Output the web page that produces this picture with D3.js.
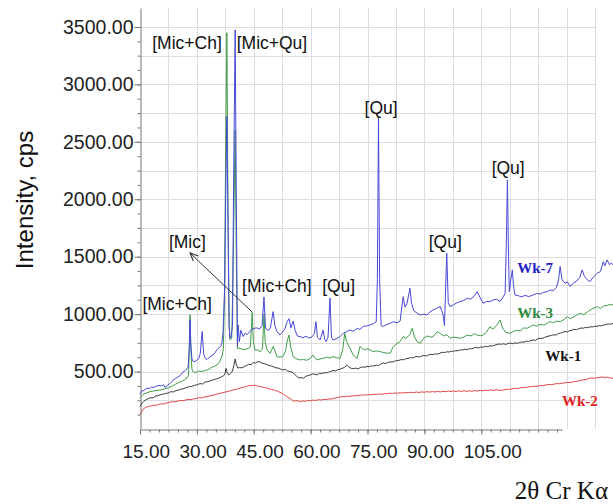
<!DOCTYPE html>
<html>
<head>
<meta charset="utf-8">
<script src="https://cdn.jsdelivr.net/npm/d3@7/dist/d3.min.js"></script>
<style>
  body { margin: 0; background: #fff; }
  svg { display: block; }
</style>
</head>
<body>
<script>
// XRD patterns, 2θ (deg) vs intensity (cps)
const wk7 = [[15,300],[15.5,330],[16,335],[16.8,355],[17.5,350],[18,365],[18.6,360],[19.2,372],[20,380],[20.6,375],[21.2,385],[21.6,362],[22.2,378],[23,400],[23.7,425],[24.4,440],[25,452],[25.6,465],[26.3,495],[27,510],[27.7,540],[28,700],[28.2,950],[28.4,740],[28.7,610],[29,590],[29.5,585],[30,600],[30.5,612],[30.9,660],[31.4,850],[31.8,650],[32.2,615],[32.7,605],[33.3,625],[34,640],[34.5,650],[35.3,690],[35.8,705],[36.3,720],[36.6,750],[36.9,840],[37.3,1200],[37.6,2000],[37.9,2720],[38.2,1800],[38.5,900],[38.7,790],[39,800],[39.4,900],[39.7,2200],[40.1,3475],[40.4,2000],[40.7,720],[40.9,905],[41.2,760],[41.6,860],[42.2,805],[42.7,835],[43.2,820],[44,850],[44.6,870],[45.3,878],[45.9,880],[46.5,870],[47.2,900],[47.7,1150],[48.1,880],[48.8,855],[49.4,880],[50.1,1022],[50.6,900],[51.1,850],[51.9,818],[52.5,840],[53.2,870],[53.8,934],[54.3,960],[54.8,880],[55.4,940],[55.9,860],[56.5,810],[57.2,804],[58,795],[58.8,808],[59.5,792],[60.3,800],[61,830],[61.4,934],[61.8,800],[62.5,775],[63.3,862],[63.7,780],[64.1,760],[64.6,800],[65.1,1140],[65.5,800],[65.9,775],[66.7,785],[67.6,800],[68.6,833],[69.4,845],[70.4,862],[71.2,850],[72.3,877],[73,866],[74,895],[74.9,898],[75.7,906],[76.5,915],[77.3,934],[77.6,1300],[77.9,2710],[78.2,1300],[78.6,900],[78.9,891],[79.8,905],[81,920],[81.8,934],[82.8,925],[83.6,940],[84.4,1152],[84.9,1060],[85.4,1090],[86.2,1225],[86.6,1100],[87.2,1030],[88.1,1008],[88.9,993],[89.8,1000],[90.7,993],[91.5,1020],[92.3,1036],[93.2,1050],[94.2,1065],[94.9,1000],[95.3,900],[95.9,1530],[96.3,1100],[96.8,1065],[97.6,1080],[98.4,1095],[99.4,1109],[100.4,1120],[101.3,1138],[102.2,1130],[103.2,1160],[103.9,1196],[104.6,1150],[105.5,1094],[106.4,1110],[107.3,1109],[108.1,1123],[109,1130],[110,1110],[110.8,1150],[111.3,1182],[111.6,1600],[111.9,2169],[112.2,1500],[112.4,1196],[112.8,1300],[113.2,1385],[113.5,1250],[113.9,1167],[114.8,1160],[115.7,1150],[116.6,1165],[117.5,1152],[118.7,1167],[119.6,1180],[120.5,1175],[121.5,1190],[122.4,1196],[123.2,1210],[124,1205],[124.8,1230],[125.4,1300],[125.8,1414],[126.3,1300],[127.1,1269],[127.7,1280],[128.5,1240],[129.3,1270],[130.2,1290],[131,1320],[131.6,1385],[132.2,1330],[133,1298],[133.7,1283],[134.5,1320],[135.6,1356],[136.4,1370],[137.2,1457],[137.6,1420],[138.2,1472],[138.8,1430],[139.3,1445],[139.8,1428]];

const wk3 = [[15,270],[15.5,290],[16,305],[16.8,315],[17.6,325],[18.4,330],[19.2,335],[20.3,340],[21,345],[21.8,352],[22.6,360],[23.5,375],[24.4,390],[25.2,405],[26,415],[26.8,430],[27.4,445],[27.8,470],[28,700],[28.2,995],[28.4,700],[28.7,520],[29,499],[29.7,492],[30.5,505],[31.3,500],[32.2,510],[32.9,515],[33.6,530],[34.5,545],[35.3,557],[35.9,580],[36.6,630],[37,700],[37.3,1200],[37.6,2500],[37.9,3450],[38.2,2000],[38.5,900],[38.8,775],[39.2,790],[39.6,1500],[40.1,2600],[40.4,1500],[40.7,700],[41.1,705],[41.6,700],[42.2,690],[42.9,695],[43.5,700],[44.1,715],[44.6,1015],[44.9,760],[45.3,688],[45.9,690],[46.7,673],[47.3,700],[47.7,1000],[48,760],[48.5,688],[49.3,659],[50.1,717],[50.6,680],[51.1,630],[51.9,625],[52.7,632],[53.4,680],[53.9,780],[54.3,818],[54.7,720],[55.4,630],[56.2,612],[57.2,601],[58.1,605],[59,598],[59.9,615],[60.6,644],[61.2,615],[61.7,601],[62.5,610],[63.3,615],[64.2,625],[65.1,618],[65.9,630],[66.8,622],[67.8,615],[68.5,700],[69,833],[69.5,760],[70.4,700],[71.3,640],[72.3,615],[73,717],[73.6,700],[74.2,690],[74.9,700],[75.7,688],[76.5,673],[77.3,680],[78.2,675],[79,668],[80,660],[81,662],[81.8,717],[82.6,740],[83.6,760],[84.4,804],[85.2,790],[86.1,820],[86.8,877],[87.4,800],[88.1,760],[88.9,746],[89.8,790],[90.7,810],[91.6,800],[92.3,804],[93.4,847],[94.2,833],[95,810],[95.9,820],[96.8,790],[97.7,800],[98.6,795],[99.4,790],[100.4,800],[101.3,818],[102.3,810],[103.2,830],[103.9,818],[104.7,812],[105.5,818],[106.3,840],[107.3,891],[108.1,870],[109,900],[110,949],[110.6,880],[111.5,840],[112.6,833],[113.5,850],[114.5,860],[115.4,855],[116.2,880],[117.1,877],[117.9,891],[118.7,906],[119.6,895],[120.5,912],[121.5,905],[122.4,920],[123.2,934],[124,925],[124.9,940],[125.8,935],[126.6,949],[127.7,978],[128.5,960],[129.3,975],[130.2,990],[131.1,1008],[132,995],[133,1020],[133.7,1036],[134.5,1051],[135.6,1065],[136.4,1050],[137.2,1070],[138.2,1075],[139,1085],[139.8,1080]];

const wk1 = [[15,195],[15.5,225],[16,240],[16.6,255],[17.2,265],[17.8,272],[18.4,270],[19,285],[19.7,290],[20.3,298],[21,302],[21.7,310],[22.4,312],[23.1,325],[23.8,322],[24.5,335],[25.2,338],[25.9,348],[26.6,352],[27.3,362],[28,368],[28.7,372],[29.4,380],[30.1,385],[30.8,395],[31.5,392],[32.2,410],[32.9,412],[33.6,420],[34.3,428],[35,435],[35.7,442],[36.4,452],[37,462],[37.4,480],[37.7,528],[38,490],[38.4,470],[38.9,485],[39.4,505],[39.8,560],[40.1,610],[40.4,560],[40.8,530],[41.3,535],[41.9,532],[42.5,545],[43.1,552],[43.7,565],[44.3,560],[44.9,578],[45.5,575],[46.1,588],[46.7,582],[47.3,572],[47.9,568],[48.5,560],[49.1,552],[49.7,548],[50.3,540],[50.9,532],[51.5,530],[52.1,522],[52.7,514],[53.3,520],[53.9,505],[54.5,500],[55.1,495],[55.7,478],[56.3,460],[56.9,445],[57.5,448],[58.1,442],[58.7,458],[59.3,465],[59.9,470],[60.5,480],[61.1,476],[61.7,472],[62.3,485],[62.9,482],[63.5,490],[64.1,488],[64.7,495],[65.3,500],[65.9,510],[66.5,505],[67.1,515],[67.7,520],[68.3,528],[68.9,535],[69.5,557],[70.1,540],[70.7,528],[71.3,525],[71.9,530],[72.5,522],[73.1,535],[73.7,540],[74.3,538],[74.9,545],[75.5,543],[76.1,550],[76.7,548],[77.3,556],[77.9,552],[78.5,565],[79.1,575],[79.7,570],[80.3,578],[80.9,585],[81.5,582],[82.1,590],[82.7,595],[83.3,598],[83.9,605],[84.5,602],[85.1,612],[85.7,615],[86.3,622],[86.9,618],[87.5,628],[88.1,632],[88.7,626],[89.3,636],[89.9,640],[90.5,635],[91.1,645],[91.7,650],[92.3,648],[92.9,655],[93.5,652],[94.1,660],[94.7,668],[95.3,665],[95.9,672],[96.5,670],[97.1,678],[97.7,675],[98.3,683],[98.9,680],[99.5,690],[100.1,688],[100.7,695],[101.3,690],[101.9,700],[102.5,698],[103.1,705],[103.7,712],[104.3,705],[104.9,715],[105.5,711],[106.1,720],[106.7,716],[107.3,725],[107.9,722],[108.5,730],[109.1,735],[109.7,740],[110.3,738],[110.9,742],[111.5,736],[112.1,745],[112.7,748],[113.3,742],[113.9,750],[114.5,746],[115.1,752],[115.7,758],[116.3,755],[116.9,765],[117.5,762],[118.1,770],[118.7,775],[119.3,772],[119.9,785],[120.5,790],[121.1,788],[121.7,798],[122.3,804],[122.9,810],[123.5,815],[124.1,820],[124.7,818],[125.3,830],[125.9,835],[126.5,842],[127.1,848],[127.7,845],[128.3,856],[128.9,860],[129.5,868],[130.1,865],[130.7,872],[131.3,880],[131.9,877],[132.5,885],[133.1,882],[133.7,890],[134.3,888],[134.9,895],[135.5,893],[136.1,900],[136.7,898],[137.3,905],[137.9,910],[138.5,915],[139.1,912],[139.8,920]];

const wk2 = [[15,125],[15.4,150],[15.9,175],[16.5,188],[17.2,195],[17.9,200],[18.6,208],[19.3,205],[20,215],[20.7,220],[21.4,218],[22.1,228],[22.8,232],[23.5,238],[24.2,236],[24.9,242],[25.6,248],[26.3,246],[27,252],[27.7,258],[28.4,255],[29.1,262],[29.8,266],[30.5,272],[31.2,270],[31.9,278],[32.6,281],[33.3,288],[34,292],[34.7,298],[35.4,305],[36.1,310],[36.8,316],[37.5,322],[38.2,326],[38.9,334],[39.6,340],[40.3,345],[41,352],[41.7,358],[42.4,365],[43.1,370],[43.8,380],[44.5,376],[45.2,382],[45.9,374],[46.6,370],[47.3,365],[48,360],[48.7,352],[49.4,348],[50.1,340],[50.8,335],[51.5,325],[52.2,315],[52.9,300],[53.6,285],[54.3,270],[55,255],[55.7,242],[56.4,248],[57.1,238],[57.8,245],[58.5,240],[59.2,250],[59.9,246],[60.6,252],[61.3,248],[62,255],[62.7,252],[63.4,258],[64.1,256],[64.8,262],[65.5,260],[66.2,268],[66.9,272],[67.6,278],[68.3,282],[69,280],[69.7,286],[70.4,284],[71.1,290],[71.8,288],[72.5,294],[73.2,292],[73.9,298],[74.6,295],[75.3,300],[76,298],[76.7,303],[77.4,300],[78.1,306],[78.8,302],[79.5,308],[80.2,306],[80.9,312],[81.6,309],[82.3,314],[83,312],[83.7,316],[84.4,313],[85.1,318],[85.8,315],[86.5,320],[87.2,317],[87.9,322],[88.6,318],[89.3,323],[90,320],[90.7,325],[91.4,321],[92.1,326],[92.8,322],[93.5,327],[94.2,323],[94.9,328],[95.6,325],[96.3,330],[97,326],[97.7,331],[98.4,327],[99.1,332],[99.8,328],[100.5,333],[101.2,327],[101.9,332],[102.6,329],[103.3,334],[104,330],[104.7,336],[105.4,333],[106.1,338],[106.8,335],[107.5,340],[108.2,336],[108.9,342],[109.6,338],[110.3,336],[111,341],[111.7,346],[112.4,344],[113.1,350],[113.8,354],[114.5,352],[115.2,358],[115.9,362],[116.6,360],[117.3,366],[118,368],[118.7,372],[119.4,370],[120.1,376],[120.8,380],[121.5,378],[122.2,385],[122.9,388],[123.6,386],[124.3,392],[125,395],[125.7,394],[126.4,399],[127.1,402],[127.8,406],[128.5,404],[129.2,410],[129.9,415],[130.6,418],[131.3,424],[132,428],[132.7,432],[133.4,440],[134.1,445],[134.8,441],[135.5,446],[136.2,450],[136.9,453],[137.6,448],[138.3,452],[139,445],[139.8,440]];

// series names, colours and where the name is written (deg, cps)
const seriesNames = ["Wk-2", "Wk-1", "Wk-3", "Wk-7"];
const seriesData = [wk2, wk1, wk3, wk7];
const lineColors = ["#e04646", "#3c3c3c", "#3f9c48", "#4848d8"];
const labelColors = ["#e02424", "#111111", "#2e8a3e", "#2222c4"];
const labelDeg = [126.3, 121.9, 114.5, 114.5];
const labelCps = [203, 595, 966, 1358];

// phase annotations: text, centre 2θ, baseline cps
const annoText = ["[Mic+Ch]", "[Mic+Qu]", "[Qu]", "[Qu]", "[Qu]", "[Mic]", "[Mic+Ch]", "[Mic+Ch]", "[Qu]"];
const annoDeg = [27.4, 49.8, 78.6, 112.1, 95.5, 27.5, 51.1, 24.8, 67.4];
const annoCps = [3304, 3304, 2738, 2216, 1576, 1576, 1197, 1040, 1193];
const arrowFrom = [44.55, 1019];
const arrowTo = [28.2, 1532];

const yTicks = [500, 1000, 1500, 2000, 2500, 3000, 3500];
const xTicks = [15, 30, 45, 60, 75, 90, 105];

const width = 613, height = 504;

const x = d3.scaleLinear().domain([15, 135]).range([140, 595]);
const y = d3.scaleLinear().domain([0, 3665]).range([429, 8]);

const svg = d3.select("body").append("svg")
    .attr("width", width)
    .attr("height", height)
    .style("font-family", "'Liberation Sans', Arial, sans-serif");

// grid
const grid = svg.append("g").attr("stroke", "#dcdcdc").attr("stroke-width", 1);
grid.selectAll("line.v")
    .data(d3.range(22.5, 135.1, 7.5))
    .join("line")
    .attr("x1", d => Math.round(x(d)) + 0.5).attr("x2", d => Math.round(x(d)) + 0.5)
    .attr("y1", y.range()[1]).attr("y2", y.range()[0]);
grid.selectAll("line.h")
    .data(d3.range(250, 3501, 250))
    .join("line")
    .attr("x1", x.range()[0]).attr("x2", x.range()[1])
    .attr("y1", d => Math.round(y(d)) + 0.5).attr("y2", d => Math.round(y(d)) + 0.5);

// y axis: minor ticks, then labelled ones
svg.append("g")
    .attr("transform", "translate(140.5,0)")
    .call(d3.axisLeft(y).tickValues(d3.range(125, 3600, 125)).tickSize(3).tickFormat(""))
    .call(g => g.select(".domain").remove())
    .selectAll("line").attr("stroke", "#777");

const yAxis = svg.append("g")
    .attr("transform", "translate(140.5,0)")
    .call(d3.axisLeft(y).tickValues(yTicks).tickSize(6).tickSizeOuter(0).tickFormat(d3.format(".2f")));
yAxis.select(".domain").attr("stroke", "#777");
yAxis.selectAll("line").attr("stroke", "#777");
yAxis.selectAll("text")
    .attr("font-size", 19.5)
    .attr("fill", "#222")
    .attr("font-family", "'Liberation Sans', Arial, sans-serif")
    .attr("x", -7);

// x axis ends before the grid does
const xAxisScale = x.copy().domain([15, 126.3]).range([x(15), x(126.3)]);
svg.append("g")
    .attr("transform", "translate(0,429.5)")
    .call(d3.axisBottom(xAxisScale).tickValues(d3.range(17.5, 126, 2.5)).tickSize(3).tickFormat(""))
    .call(g => g.select(".domain").remove())
    .selectAll("line").attr("stroke", "#777");

const xAxis = svg.append("g")
    .attr("transform", "translate(0,429.5)")
    .call(d3.axisBottom(xAxisScale).tickValues(xTicks).tickSize(5).tickSizeOuter(0).tickFormat(d3.format(".2f")));
xAxis.select(".domain").attr("stroke", "#777");
xAxis.selectAll("line").attr("stroke", "#777");
xAxis.selectAll("text")
    .attr("font-size", 19)
    .attr("fill", "#222")
    .attr("font-family", "'Liberation Sans', Arial, sans-serif")
    .attr("text-anchor", "start")
    .attr("dx", -18)
    .attr("y", 15);

// patterns
const line = d3.line().x(d => x(d[0])).y(d => y(d[1]));
svg.append("g")
    .attr("fill", "none")
    .attr("stroke-width", 1)
    .attr("stroke-linejoin", "round")
    .selectAll("path")
    .data(seriesData)
    .join("path")
    .attr("stroke", (d, i) => lineColors[i])
    .attr("d", line);

// series names
svg.append("g")
    .selectAll("text")
    .data(seriesNames)
    .join("text")
    .attr("x", (d, i) => x(labelDeg[i]))
    .attr("y", (d, i) => y(labelCps[i]))
    .attr("fill", (d, i) => labelColors[i])
    .attr("font-family", "'Liberation Serif', 'Times New Roman', serif")
    .attr("font-weight", "bold")
    .attr("font-size", 15)
    .text(d => d);

// phase labels
svg.append("g")
    .selectAll("text")
    .data(annoText)
    .join("text")
    .attr("x", (d, i) => x(annoDeg[i]))
    .attr("y", (d, i) => y(annoCps[i]))
    .attr("text-anchor", "middle")
    .attr("font-size", 17.5)
    .attr("fill", "#111")
    .text(d => d);

// arrow to [Mic]
svg.append("defs").append("marker")
    .attr("id", "arrow")
    .attr("viewBox", "0 0 10 10")
    .attr("refX", 9).attr("refY", 5)
    .attr("markerWidth", 9).attr("markerHeight", 9)
    .attr("orient", "auto")
    .append("path")
    .attr("d", "M0,1 L9,5 L0,9")
    .attr("fill", "none")
    .attr("stroke", "#333")
    .attr("stroke-width", 1.2);

svg.append("line")
    .attr("x1", x(arrowFrom[0])).attr("y1", y(arrowFrom[1]))
    .attr("x2", x(arrowTo[0])).attr("y2", y(arrowTo[1]))
    .attr("stroke", "#333")
    .attr("stroke-width", 1)
    .attr("marker-end", "url(#arrow)");

// axis titles
svg.append("text")
    .attr("transform", "translate(33,200) rotate(-90)")
    .attr("text-anchor", "middle")
    .attr("font-size", 24)
    .attr("fill", "#111")
    .text("Intensity, cps");

svg.append("text")
    .attr("x", 608)
    .attr("y", 499)
    .attr("text-anchor", "end")
    .attr("font-family", "'Liberation Serif', 'Times New Roman', serif")
    .attr("font-size", 25)
    .attr("fill", "#111")
    .text("2θ Cr Kα");
</script>
</body>
</html>
